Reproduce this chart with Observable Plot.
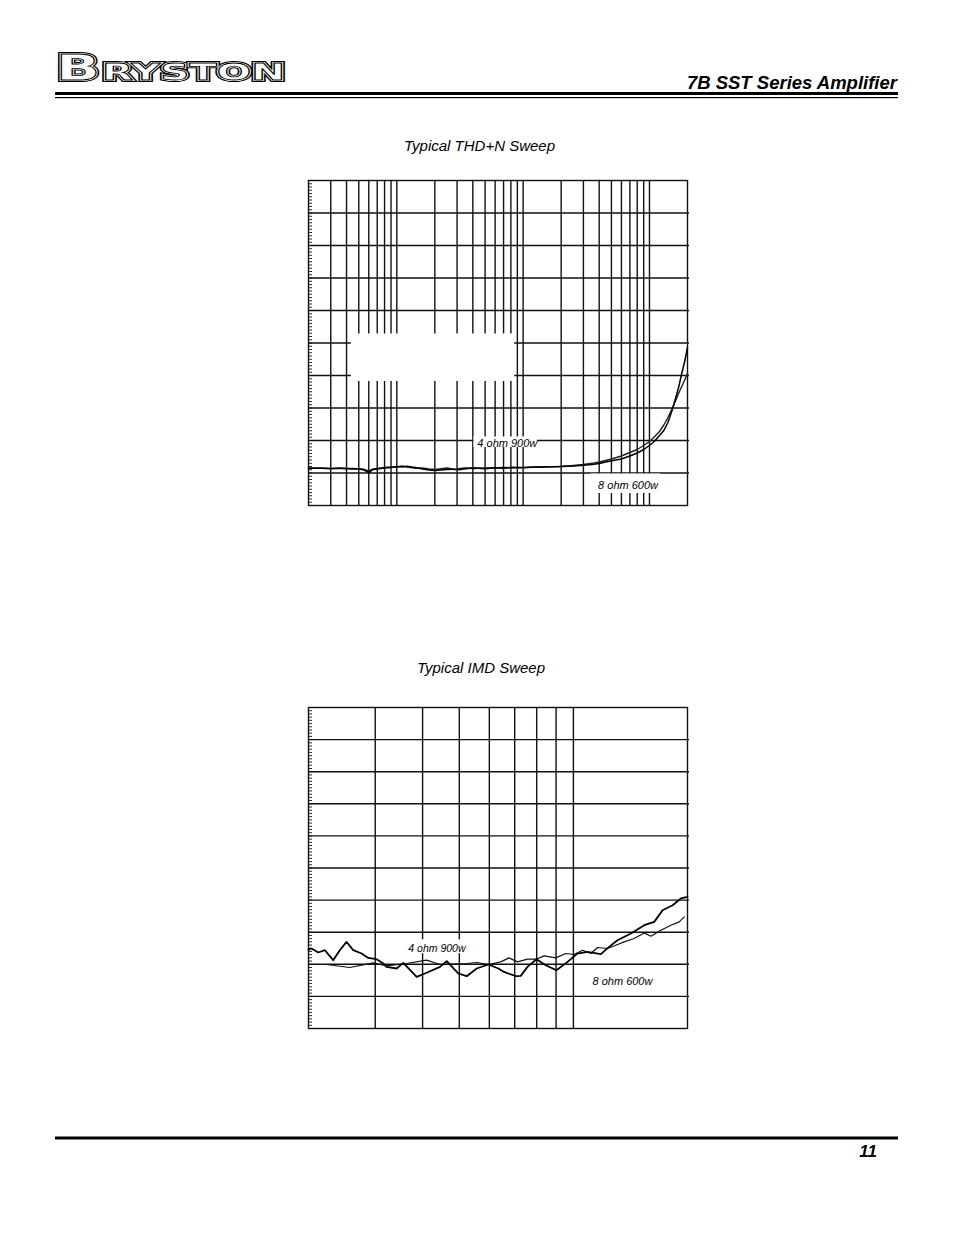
<!DOCTYPE html>
<html><head><meta charset="utf-8">
<script src="https://cdn.jsdelivr.net/npm/d3@7"></script>
<script src="https://cdn.jsdelivr.net/npm/@observablehq/plot@0.6"></script>
<style>
html,body{margin:0;padding:0;background:#fff;}
body{width:954px;height:1235px;position:relative;overflow:hidden;font-family:"Liberation Sans",Arial,sans-serif;}
.abs{position:absolute;}
</style></head><body>
<svg class="abs" style="left:0;top:0" width="954" height="1235" id="page">
  <g font-family="DejaVu Sans" font-weight="bold" stroke-linejoin="miter">
    <g fill="#000" stroke="#000" stroke-width="4">
      <text x="56" y="80" font-size="35" textLength="44" lengthAdjust="spacingAndGlyphs">B</text>
      <text x="102" y="80" font-size="23" textLength="183" lengthAdjust="spacingAndGlyphs">RYSTON</text>
    </g>
    <g fill="#fff" stroke="#fff" stroke-width="2">
      <text x="56" y="80" font-size="35" textLength="44" lengthAdjust="spacingAndGlyphs">B</text>
      <text x="102" y="80" font-size="23" textLength="183" lengthAdjust="spacingAndGlyphs">RYSTON</text>
    </g>
    <g fill="#fff" stroke="#000" stroke-width="0.8">
      <text x="56" y="80" font-size="35" textLength="44" lengthAdjust="spacingAndGlyphs">B</text>
      <text x="102" y="80" font-size="23" textLength="183" lengthAdjust="spacingAndGlyphs">RYSTON</text>
    </g>
  </g>
  <rect x="55" y="92" width="843" height="3" fill="#000"/>
  <rect x="55" y="97" width="843" height="1.2" fill="#000"/>
  <text x="897" y="89" text-anchor="end" font-family="Liberation Sans, Arial, sans-serif" font-weight="bold" font-style="italic" font-size="18.5" fill="#000">7B SST Series Amplifier</text>
  <text x="479.5" y="151" text-anchor="middle" font-family="Liberation Sans, Arial, sans-serif" font-style="italic" font-size="15" fill="#000">Typical THD+N Sweep</text>
  <text x="481" y="673" text-anchor="middle" font-family="Liberation Sans, Arial, sans-serif" font-style="italic" font-size="15" fill="#000">Typical IMD Sweep</text>
  <rect x="55" y="1136.5" width="843" height="3" fill="#000"/>
  <text x="877" y="1157" text-anchor="end" font-family="Liberation Sans, Arial, sans-serif" font-weight="bold" font-style="italic" font-size="17" fill="#000">11</text>
</svg>
<div id="thd" class="abs" style="left:298px;top:170px"></div>
<div id="imd" class="abs" style="left:298px;top:697.3px"></div>
<script>
// ---------- THD+N sweep (frequency in Hz, THD+N in %) ----------
const thdFreq = [20,25,30,35,40,45,50,55,60,65,70,80,90,100,110,120,140,160,180,200,250,300,350,400,500,600,700,800,1000,1200,1500,2000,2500,3000,3500,4000,4500,5000,6000,7000,8000,9000,10000,11000,12000,13000,14000,15000,16000,17000,18000,19000,20000];
const thd4ohm = [0.001154,0.001145,0.001138,0.001151,0.001129,0.001138,0.001120,0.001092,0.001015,0.001108,0.001123,0.001154,0.001169,0.001200,0.001185,0.001206,0.001169,0.001123,0.001092,0.001077,0.001108,0.001123,0.001154,0.001138,0.001154,0.001154,0.001169,0.001160,0.001169,0.001175,0.001185,0.001200,0.001215,0.001237,0.001262,0.001292,0.001338,0.001375,0.001431,0.001523,0.001615,0.001723,0.001846,0.001985,0.002154,0.002308,0.002554,0.002892,0.003262,0.003631,0.004062,0.004431,0.004862];
const thd8ohm = [0.001138,0.001154,0.001129,0.001138,0.001145,0.001123,0.001132,0.001114,0.001062,0.001123,0.001138,0.001169,0.001185,0.001185,0.001215,0.001185,0.001145,0.001154,0.001123,0.001108,0.001154,0.001092,0.001123,0.001169,0.001123,0.001169,0.001138,0.001175,0.001160,0.001185,0.001191,0.001200,0.001231,0.001262,0.001298,0.001338,0.001385,0.001431,0.001523,0.001631,0.001723,0.001846,0.001969,0.002123,0.002277,0.002477,0.002708,0.002954,0.003200,0.003446,0.003662,0.003862,0.004062];
const thdGridFreq = [30,40,50,60,70,80,90,100,200,300,400,500,600,700,800,900,1000,2000,3000,4000,5000,6000,7000,8000,9000,10000];
const thdGridY = [0.001,0.002,0.003,0.004,0.005,0.006,0.007,0.008,0.009];
const thdMinorY = d3.range(1,100).map(i => i*0.0001);
// erased legend area and label backgrounds
const thdMask = [{f1:43.6, f2:858, v1:0.003815, v2:0.005277}];
const thdLabelBoxes = [{f1:408, f2:1298, v1:0.001785, v2:0.002108},{f1:3432, f2:12310, v1:0.000369, v2:0.00097}];
const thdLabels = [{f:434, v:0.001923, text:"4 ohm 900w"},{f:3922, v:0.000631, text:"8 ohm 600w"}];

// ---------- IMD sweep (relative level, IMD in %) ----------
const imdAx = [2.000,2.037,2.122,2.209,2.324,2.419,2.520,2.625,2.761,2.875,3.024,3.150,3.214,3.416,3.558,3.858,4.057,4.447,4.632,4.972,5.230,5.557,5.966,6.340,6.560,7.045,7.263,7.565,7.990,8.453,9.022,9.648,10.25,10.89,11.81,12.42,13.07,14.18,15.38,16.34,17.19,18.27,19.21,20.0];
const imdAy = [0.002455,0.002492,0.002368,0.002439,0.002128,0.002439,0.002698,0.002439,0.002336,0.002199,0.002159,0.002025,0.001919,0.001869,0.002044,0.001607,0.001713,0.001919,0.002097,0.001713,0.001629,0.001869,0.001994,0.001869,0.001763,0.001629,0.001639,0.001919,0.002159,0.001972,0.001816,0.002075,0.002336,0.002386,0.002315,0.002542,0.002751,0.002960,0.003218,0.003321,0.003685,0.003841,0.004050,0.004100];
const imdBx = [2.000,2.231,2.571,2.964,3.214,3.630,4.100,4.447,5.230,5.557,5.966,6.429,6.762,7.118,7.565,7.990,8.366,8.984,9.546,10.04,10.57,11.12,11.58,12.30,12.94,13.61,14.46,15.38,16.01,17.02,18.08,19.02,19.60];
const imdBy = [0.001994,0.001994,0.001900,0.002044,0.001950,0.002025,0.002128,0.001994,0.002025,0.002056,0.001994,0.002075,0.002199,0.002075,0.002159,0.002159,0.002262,0.002199,0.002336,0.002305,0.002439,0.002336,0.002523,0.002492,0.002595,0.002698,0.002804,0.002978,0.002875,0.003062,0.003218,0.003321,0.003477];
const imdGridX = [3,4,5,6,7,8,9,10];
const imdGridY = [0.001,0.002,0.003,0.004,0.005,0.006,0.007,0.008,0.009];
const imdMinorY = d3.range(1,100).map(i => i*0.0001);
const imdLabelBoxes = [{a1:3.608, a2:5.196, v1:0.00233, v2:0.002766}];
const imdLabels = [{a:3.667, v:0.0025, text:"4 ohm 900w", size:10.5},{a:11.23, v:0.001474, text:"8 ohm 600w", size:11}];

const INK = "#111";
const labelFont = "Liberation Sans, Arial, sans-serif";

const thdA = thdFreq.map((f,i) => ({f, v: thd4ohm[i]}));
const thdB = thdFreq.map((f,i) => ({f, v: thd8ohm[i]}));
const W1 = 399, H1 = 345, M = 10;
const thdPlot = Plot.plot({
  width: W1, height: H1, margin: M,
  x: {type: "log", domain: [20, 20000], axis: null},
  y: {domain: [0, 0.01], axis: null},
  style: {background: "transparent", overflow: "visible"},
  marks: [
    Plot.ruleX(thdGridFreq, {stroke: INK, strokeWidth: 1.4}),
    Plot.ruleY(thdGridY, {stroke: INK, strokeWidth: 1.4, insetRight: -2}),
    Plot.ruleY(thdMinorY, {stroke: INK, strokeWidth: 0.9, insetRight: W1 - 2*M - 4}),
    Plot.rect(thdMask, {x1: "f1", x2: "f2", y1: "v1", y2: "v2", fill: "white"}),
    Plot.rect(thdLabelBoxes, {x1: "f1", x2: "f2", y1: "v1", y2: "v2", fill: "white"}),
    Plot.frame({stroke: INK, strokeWidth: 1.4}),
    Plot.line(thdB, {x: "f", y: "v", stroke: "#222", strokeWidth: 1.4}),
    Plot.line(thdA, {x: "f", y: "v", stroke: "#000", strokeWidth: 1.5}),
    Plot.text(thdLabels, {x: "f", y: "v", text: "text", textAnchor: "start", lineAnchor: "middle", fontSize: 11, fontStyle: "italic", fontFamily: labelFont, fill: "#000"})
  ]
});
document.getElementById("thd").appendChild(thdPlot);

const imdA = imdAx.map((a,i) => ({a, v: imdAy[i]}));
const imdB = imdBx.map((a,i) => ({a, v: imdBy[i]}));
const W2 = 399, H2 = 341;
const imdPlot = Plot.plot({
  width: W2, height: H2, margin: M,
  x: {type: "log", domain: [2, 20], axis: null},
  y: {domain: [0, 0.01], axis: null},
  style: {background: "transparent", overflow: "visible"},
  marks: [
    Plot.ruleX(imdGridX, {stroke: INK, strokeWidth: 1.4}),
    Plot.ruleY(imdGridY, {stroke: INK, strokeWidth: 1.4, insetRight: -2}),
    Plot.ruleY(imdMinorY, {stroke: INK, strokeWidth: 0.9, insetRight: W2 - 2*M - 4}),
    Plot.rect(imdLabelBoxes, {x1: "a1", x2: "a2", y1: "v1", y2: "v2", fill: "white"}),
    Plot.frame({stroke: INK, strokeWidth: 1.4}),
    Plot.line(imdB, {x: "a", y: "v", stroke: "#111", strokeWidth: 1.2}),
    Plot.line(imdA, {x: "a", y: "v", stroke: "#000", strokeWidth: 1.8}),
    Plot.text(imdLabels, {x: "a", y: "v", text: "text", textAnchor: "start", lineAnchor: "middle", fontSize: d => d.size, fontStyle: "italic", fontFamily: labelFont, fill: "#000"})
  ]
});
document.getElementById("imd").appendChild(imdPlot);
</script>
</body></html>
